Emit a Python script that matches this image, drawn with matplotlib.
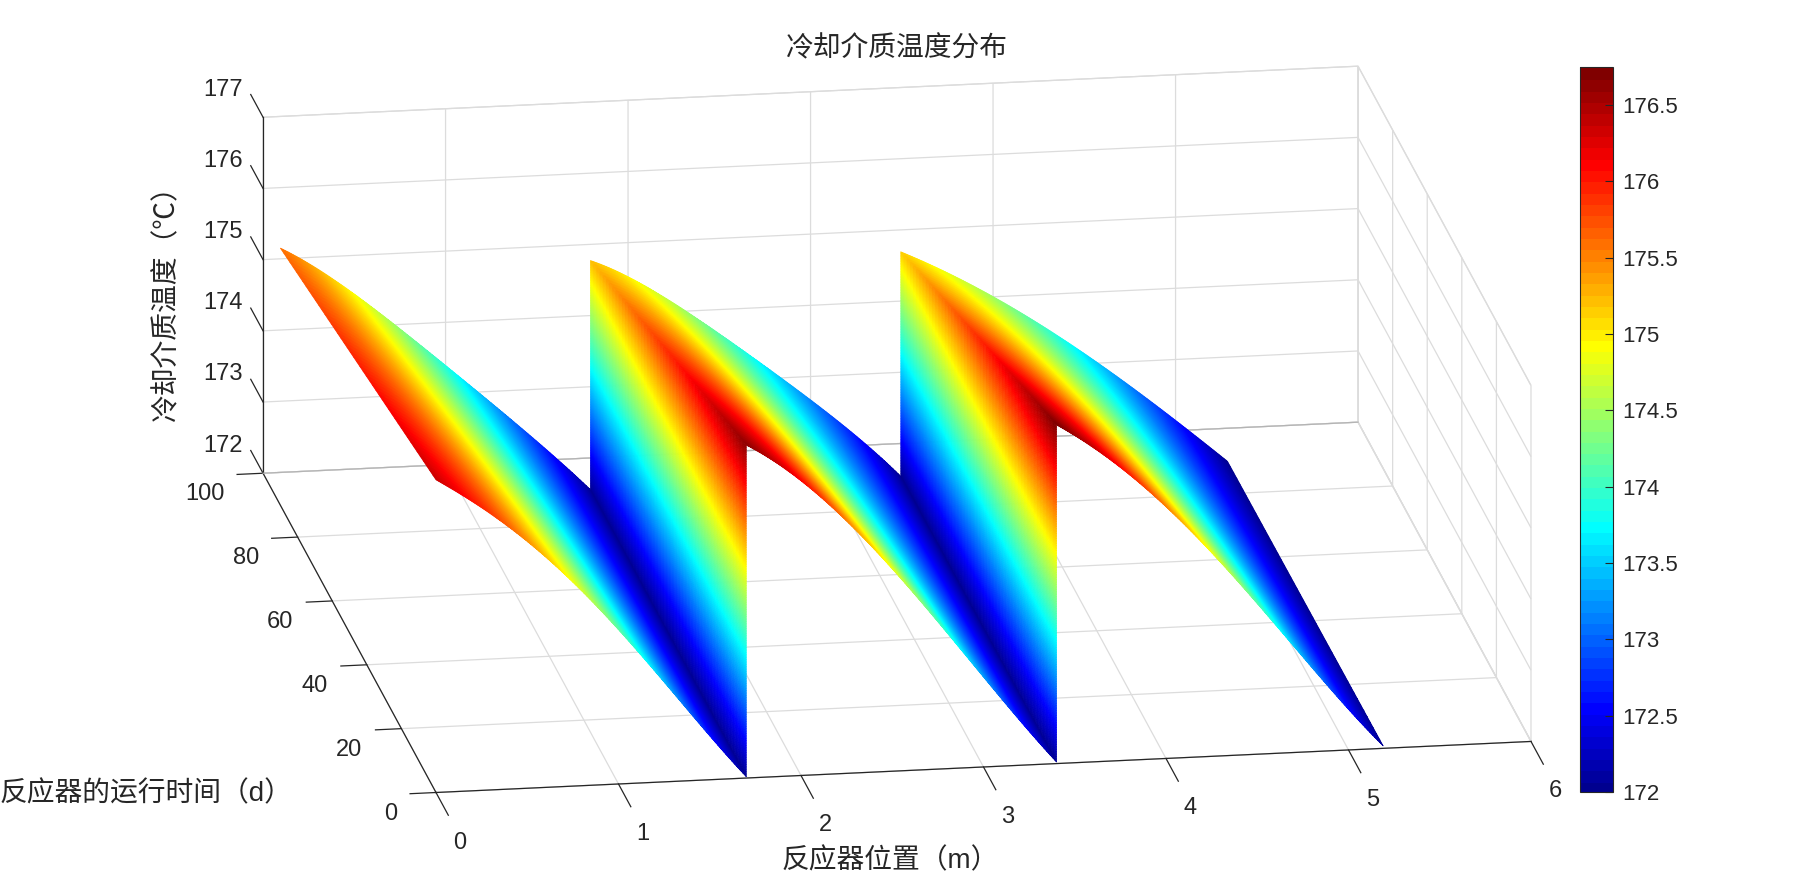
import numpy as np
import matplotlib
matplotlib.use('Agg')
import matplotlib.pyplot as plt
from matplotlib.cm import ScalarMappable
from matplotlib.colors import ListedColormap, LinearSegmentedColormap, Normalize
from matplotlib.transforms import Affine2D
from mpl_toolkits.mplot3d import proj3d

# ---- values ----
title = '冷却介质温度分布'
xlabel = '反应器位置（m）'
ylabel = '反应器的运行时间（d）'
zlabel = '冷却介质温度（℃）'
x_ticks = [0, 1, 2, 3, 4, 5, 6]
y_ticks = [0, 20, 40, 60, 80, 100]
z_ticks = [172, 173, 174, 175, 176, 177]
cbar_ticks = [172, 172.5, 173, 173.5, 174, 174.5, 175, 175.5, 176, 176.5]
cbar_labels = ['172', '172.5', '173', '173.5', '174', '174.5', '175', '175.5', '176', '176.5']
y_back, y_front = 90, 0
z_base = 172.0
z_color_max = 176.75

seg1_x_back = [0.0, 0.166, 0.33, 0.495, 0.65, 0.909, 1.088, 1.317, 1.521, 1.70]
seg1_z_back = [175.61, 175.36, 175.06, 174.73, 174.42, 173.84, 173.45, 172.93, 172.46, 172.01]
seg1_x_front = [0.0, 0.132, 0.241, 0.406, 0.552, 0.735, 0.881, 1.10, 1.393, 1.70]
seg1_z_front = [176.39, 176.19, 175.96, 175.69, 175.34, 174.90, 174.51, 173.87, 172.95, 172.02]

seg2_x_back = [1.70, 1.905, 2.066, 2.231, 2.413, 2.56, 2.742, 2.903, 3.071, 3.218, 3.40]
seg2_z_back = [175.23, 174.99, 174.71, 174.46, 174.11, 173.81, 173.46, 173.14, 172.79, 172.44, 172.0]
seg2_x_front = [1.70, 1.795, 1.941, 2.069, 2.197, 2.297, 2.434, 2.58, 2.80, 3.092, 3.40]
seg2_z_front = [176.68, 176.53, 176.25, 175.98, 175.68, 175.44, 175.05, 174.58, 173.90, 172.98, 172.02]

seg3_x_back = [3.40, 3.565, 3.729, 3.903, 4.076, 4.259, 4.478, 4.661, 4.899, 5.082, 5.19]
seg3_z_back = [175.15, 174.95, 174.72, 174.47, 174.19, 173.86, 173.47, 173.11, 172.62, 172.22, 172.0]
seg3_x_front = [3.40, 3.476, 3.604, 3.732, 3.86, 4.006, 4.152, 4.28, 4.463, 4.682, 4.974, 5.19]
seg3_z_front = [176.76, 176.63, 176.41, 176.16, 175.86, 175.52, 175.15, 174.78, 174.22, 173.54, 172.66, 172.03]

segments = [
    (seg1_x_back, seg1_z_back, seg1_x_front, seg1_z_front),
    (seg2_x_back, seg2_z_back, seg2_x_front, seg2_z_front),
    (seg3_x_back, seg3_z_back, seg3_x_front, seg3_z_front),
]


def matlab_jet(n=64):
    m = int(np.ceil(n / 4))
    u = np.r_[np.arange(1, m + 1) / m, np.ones(m - 1), np.arange(m, 0, -1) / m]
    g = int(np.ceil(m / 2)) - int(m % 4 == 1) + np.arange(1, len(u) + 1)
    r, b = g + m, g - m
    g, r, b = g[g <= n], r[r <= n], b[b >= 1]
    J = np.zeros((n, 3))
    J[r - 1, 0] = u[:len(r)]
    J[g - 1, 1] = u[:len(g)]
    J[b - 1, 2] = u[-len(b):]
    return J


def smooth_edge(xs_read, zs_read, xs):
    # smooth curve through the values read along one edge of a section
    coef = np.polyfit(xs_read, zs_read, 4)
    return np.polyval(coef, xs)


# ---- figure and style ----
W, H = 1807, 890
LATIN_CJK = ['Liberation Sans', 'Noto Sans CJK SC']
DARK = '#262626'
GRID = '#dcdcdc'
plt.rcParams['font.family'] = LATIN_CJK
plt.rcParams['grid.color'] = GRID
plt.rcParams['grid.linewidth'] = 0.9
plt.rcParams['axes.unicode_minus'] = False

fig = plt.figure(figsize=(W / 100, H / 100), dpi=100)
S = 1800
ax = fig.add_axes([0.0, 0.0, S / W, S / H], projection='3d', proj_type='ortho')
ax.patch.set_visible(False)
ax.set_xlim(0, 6, view_margin=0)
ax.set_ylim(0, 100, view_margin=0)
ax.set_zlim(172, 177, view_margin=0)
ax.view_init(elev=17.06, azim=-99.03, roll=0)
aspect = (1108.8, 1102.0, 372.4)


def to_px(x, y, z):
    a, b, _ = proj3d.proj_transform(x, y, z, ax.get_proj())
    return ax.transData.transform((a, b))


# fit the projected box onto the pixel frame of the chart
ax.set_box_aspect(aspect, zoom=1.0)
ax.apply_aspect()
span = np.linalg.norm(to_px(6, 0, 172) - to_px(0, 0, 172))
ax.set_box_aspect(aspect, zoom=np.hypot(1095, 51) / span)
origin_target = np.array([436.0, H - 792.5])
shift = origin_target - to_px(0, 0, 172)
pos = ax.get_position()
ax.set_position([pos.x0 + shift[0] / W, pos.y0 + shift[1] / H, pos.width, pos.height])
ax.apply_aspect()

jet64 = matlab_jet(64)
cmap_bar = ListedColormap(jet64)
cmap_surf = LinearSegmentedColormap.from_list('jet_smooth', jet64, N=512)
norm = Normalize(z_base, z_color_max)
surf_kw = dict(cmap=cmap_surf, norm=norm, rstride=1, cstride=1, linewidth=0.5,
               antialiased=True, shade=False)


def draw_sheet(X, Y, Z):
    s = ax.plot_surface(X, Y, Z, **surf_kw)
    s.set_edgecolor('face')
    return s


# the darker floor edge along the back wall, under the surface
ax.plot([x_ticks[0], x_ticks[-1]], [y_ticks[-1], y_ticks[-1]], [z_ticks[0], z_ticks[0]],
        color='#b4b4b4', lw=0.9, zorder=0)

# interpolated shading of the read edges, as in a MATLAB 'shading interp' surface
n_u, n_v = 200, 50
v = np.linspace(0, 1, n_v)
Y_v = y_back + (y_front - y_back) * v
edges = []
for xb, zb, xf, zf in segments:
    u = np.linspace(0, 1, n_u)
    x0, x1 = xb[0], xb[-1]
    xs = x0 + (x1 - x0) * u
    zb_i = smooth_edge(xb, zb, xs)
    zf_i = smooth_edge(xf, zf, xs)
    X = np.tile(xs, (n_v, 1))
    Y = np.tile(Y_v[:, None], (1, n_u))
    Z = np.outer(1 - v, zb_i) + np.outer(v, zf_i)
    draw_sheet(X, Y, Z)
    edges.append((x0, x1, zb_i, zf_i))

# vertical walls joining the end of one section to the start of the next
for (a0, a1, azb, azf), (b0, b1, bzb, bzf) in zip(edges[:-1], edges[1:]):
    w = np.linspace(0, 1, 140)
    low = np.outer(1 - v, [azb[-1]]) + np.outer(v, [azf[-1]])
    high = np.outer(1 - v, [bzb[0]]) + np.outer(v, [bzf[0]])
    Z = low + (high - low) * w[None, :]
    X = np.full(Z.shape, a1)
    Y = np.tile(Y_v[:, None], (1, len(w)))
    draw_sheet(X, Y, Z)

# ---- axes ----
ax.set_xticks(x_ticks)
ax.set_yticks(y_ticks)
ax.set_zticks(z_ticks)
ax.set_xticklabels([str(t) for t in x_ticks])
ax.set_yticklabels([str(t) for t in y_ticks])
ax.set_zticklabels([str(t) for t in z_ticks])
ax.tick_params(labelsize=17, labelcolor=DARK, color=DARK, pad=10)
ax.zaxis.set_ticks_position('upper')
ax.zaxis._get_tickdir = lambda position: 1
ax.grid(True)
for axis, out in ((ax.xaxis, -0.89), (ax.yaxis, -0.296), (ax.zaxis, 0.89)):
    axis.set_pane_color((1, 1, 1, 1))
    axis.pane.set_edgecolor(GRID)
    axis.pane.set_linewidth(0.9)
    axis.line.set_color(DARK)
    axis.line.set_linewidth(0.9)
    axis._axinfo['tick']['inward_factor'] = 0.0
    axis._axinfo['tick']['outward_factor'] = out
    axis._axinfo['tick']['linewidth'] = {True: 0.9, False: 0.5}


def place_tick_labels(axis, dx, dy, ha):
    # shift tick labels by a fixed number of pixels from where mplot3d puts them
    base = axis.get_major_ticks
    offset = Affine2D().translate(dx, dy)

    def patched(numticks=None):
        ticks = base(numticks)
        for t in ticks:
            t.label1.set_transform(ax.transData + offset)
            t.label1.set_ha(ha)
            t.label1.set_va('center')
        return ticks
    axis.get_major_ticks = patched


place_tick_labels(ax.xaxis, 19.5, -32.0, 'center')
place_tick_labels(ax.yaxis, -9.6, -10.3, 'right')
place_tick_labels(ax.zaxis, -6.3, 20.5, 'center')

LABEL = dict(color=DARK, family=LATIN_CJK, fontsize=20)
fig.text(897 / W, 1 - 49 / H, title, ha='center', va='center', **LABEL)
fig.text(782 / W, 1 - 861 / H, xlabel, ha='left', va='center', **LABEL)
fig.text(0 / W, 1 - 794 / H, ylabel, ha='left', va='center', **LABEL)
fig.text(167 / W, 1 - 421 / H, zlabel, ha='center', va='bottom', rotation=90, **LABEL)

# ---- colorbar ----
cax = fig.add_axes([1580 / W, 1 - 792 / H, 33 / W, 725 / H])
cb = fig.colorbar(ScalarMappable(norm=norm, cmap=cmap_bar), cax=cax)
cb.set_ticks(cbar_ticks)
cb.set_ticklabels(cbar_labels)
cb.ax.tick_params(direction='in', length=6, width=0.8, color=DARK, labelcolor=DARK,
                  labelsize=16, pad=7)
cb.outline.set_edgecolor(DARK)
cb.outline.set_linewidth(0.8)
cb.solids.set_edgecolor('face')

fig.savefig('out.png', dpi=100)
